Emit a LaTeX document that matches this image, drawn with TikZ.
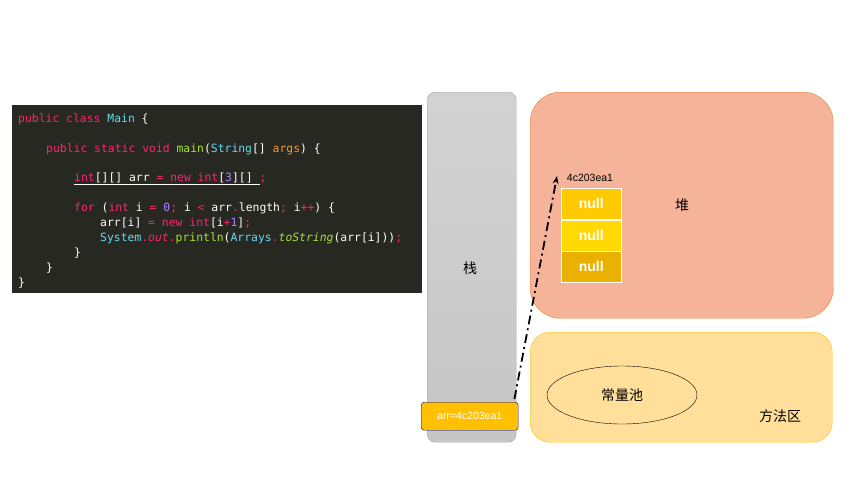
\documentclass[tikz,border=0pt]{standalone}
\usepackage{fontspec}
\setmainfont{Liberation Sans}
\setmonofont{DejaVu Sans Mono}
\newfontfamily\cjk{Noto Sans CJK SC}
\usetikzlibrary{positioning, arrows.meta, shapes.geometric}
\definecolor{codebg}{HTML}{272822}
\definecolor{kw}{HTML}{F92672}
\definecolor{ty}{HTML}{66D9EF}
\definecolor{fn}{HTML}{A6E22E}
\definecolor{ar}{HTML}{FD971F}
\definecolor{nm}{HTML}{AE81FF}
\definecolor{heapfill}{HTML}{F5B49A}
\definecolor{heapline}{HTML}{ED7D31}
\definecolor{methfill}{HTML}{FFDF99}
\definecolor{amber}{HTML}{FFC000}
\newcommand*{\ckw}[1]{\textcolor{kw}{#1}}
\newcommand*{\cty}[1]{\textcolor{ty}{#1}}
\newcommand*{\cfn}[1]{\textcolor{fn}{#1}}
\newcommand*{\cwh}[1]{\textcolor{white}{#1}}

\begin{document}
\begin{tikzpicture}[x=1pt, y=-1pt,
  codeline/.style={anchor=base west, inner sep=0pt, font=\ttfamily\fontsize{11.4}{12}\selectfont, text=white},
  cjklabel/.style={font=\cjk\fontsize{14}{16}\selectfont},
  nullcell/.style={draw=white, line width=0.5pt, minimum width=60pt, minimum height=31pt, inner sep=0pt, text=white, font=\bfseries\fontsize{14}{15}\selectfont}]
\useasboundingbox (0,0) rectangle (853,480);

% code panel
\node (Code) [fill=codebg, minimum width=410pt, minimum height=188pt, inner sep=0pt, anchor=north west] at (12,105) {};
\node (L1) [codeline] at (18,122) {\ckw{public class} \cty{Main} \cwh{\{}};
\node (L2) [codeline] at (46,152) {\ckw{public static void} \cfn{main}\cwh{(}\cty{String}\cwh{[] }\textcolor{ar}{args}\cwh{) \{}};
\node (L3) [codeline] at (74,181) {\underline{\ckw{int}\cwh{[][] arr }\ckw{= new int}\cwh{[}\textcolor{nm}{3}\cwh{][] }}\ckw{;}};
\node (L4) [codeline] at (74,211) {\ckw{for} \cwh{(}\ckw{int} \cwh{i} \ckw{=} \textcolor{nm}{0}\ckw{;} \cwh{i} \ckw{<} \cwh{arr}\ckw{.}\cwh{length}\ckw{;} \cwh{i}\ckw{++}\cwh{) \{}};
\node (L5) [codeline] at (100,226) {\cwh{arr[i]} \ckw{= new int}\cwh{[i}\ckw{+}\textcolor{nm}{1}\cwh{]}\ckw{;}};
\node (L6) [codeline] at (100,241) {\cty{System}\ckw{.}\textcolor{kw}{\itshape out}\ckw{.}\cfn{println}\cwh{(}\cty{Arrays}\ckw{.}\textcolor{fn}{\itshape toString}\cwh{(arr[i]))}\ckw{;}};
\node (L7) [codeline] at (74,256) {\}};
\node (L8) [codeline] at (46,271) {\}};
\node (L9) [codeline] at (18,286) {\}};

% stack
\node (Stack) [draw=gray!70, rounded corners=8pt, top color=gray!35, bottom color=gray!45, minimum width=89pt, minimum height=350pt, anchor=north west] at (427,92) {};
\node (StackLbl) [cjklabel] at (470,268) {栈};
\node (Ref) [draw=blue!50!black, fill=amber, rounded corners=3pt, minimum width=97pt, minimum height=28pt, text=white, font=\fontsize{10.5}{11}\selectfont, anchor=north west] at (421,402) {arr=4c203ea1};

% heap
\node (Heap) [draw=heapline, fill=heapfill, rounded corners=30pt, minimum width=303pt, minimum height=226pt, anchor=north west] at (530,92) {};
\node (HeapLbl) [cjklabel] at (682,205) {堆};
\node (N0) [nullcell, fill=amber!85!yellow, anchor=north west] at (561,188) {null};
\node (N1) [nullcell, fill=amber!60!yellow, below=0pt of N0] {null};
\node (N2) [nullcell, fill=amber!92!black, below=0pt of N1] {null};
\node (Addr) [font=\fontsize{10.5}{11}\selectfont, inner sep=1pt] at (590,178) {4c203ea1};

% method area
\node (Meth) [draw=amber, fill=methfill, rounded corners=20pt, minimum width=302pt, minimum height=110pt, anchor=north west] at (530,332) {};
\node (Pool) [draw, ellipse, minimum width=150pt, minimum height=58pt, cjklabel] at (622,395) {常量池};
\node (MethLbl) [cjklabel] at (780,416) {方法区};

\coordinate (Tip) at (557,176);
\draw[line width=1.8pt, dash pattern=on 9pt off 4pt on 2pt off 4pt, -{Stealth[length=8pt]}] (Ref.north east) ++(-4,-3) -- (Tip);
\end{tikzpicture}
\end{document}
